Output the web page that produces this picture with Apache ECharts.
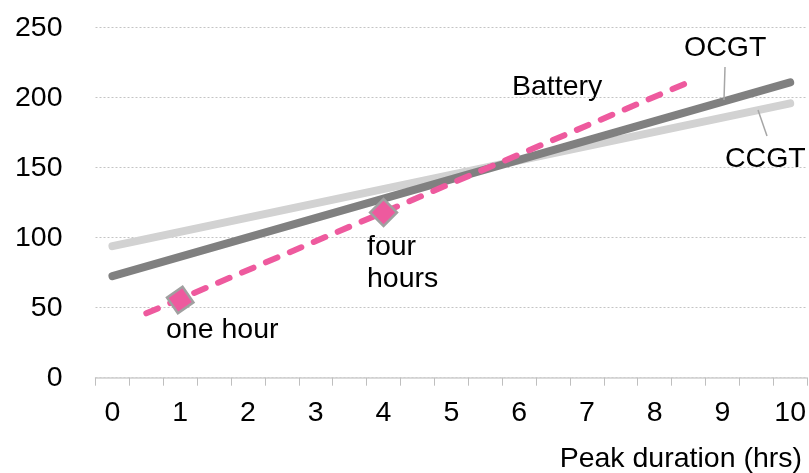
<!DOCTYPE html>
<html>
<head>
<meta charset="utf-8">
<script src="https://cdn.jsdelivr.net/npm/echarts@6/dist/echarts.min.js"></script>
<style>
html,body{margin:0;padding:0;background:#fff;}
#chart{width:809px;height:473px;}
</style>
</head>
<body>
<div id="chart"></div>
<script>
// Categories: peak duration in hours (half-hour steps, labels every hour)
var categories = ['0','0.5','1','1.5','2','2.5','3','3.5','4','4.5','5','5.5','6','6.5','7','7.5','8','8.5','9','9.5','10'];
var yTicks = [0, 50, 100, 150, 200, 250];
// Line endpoints
var ocgt = [['0', 72.5], ['10', 211]];
var ccgt = [['0', 94], ['10', 196]];
var battery = [['0.5', 46], ['8.5', 211]];
var markerOneHour = [['1', 55.5]];
var markerFourHours = [['4', 118]];

var FONT = 'Liberation Sans, Arial, sans-serif';
var PINK = '#EE5A9E';

var chart = echarts.init(document.getElementById('chart'), null, {renderer: 'canvas'});
var option = {
  animation: false,
  backgroundColor: '#fff',
  grid: {left: 95.5, right: 0, top: 27.7, bottom: 95.3, containLabel: false},
  xAxis: {
    type: 'category',
    data: categories,
    boundaryGap: true,
    axisLine: {show: true, lineStyle: {color: '#d0d0d0', width: 1.5}},
    axisTick: {show: true, interval: 0, length: 8, lineStyle: {color: '#bfbfbf', width: 1}},
    axisLabel: {interval: 1, color: '#000', fontFamily: FONT, fontSize: 28.5, margin: 21},
    splitLine: {show: false}
  },
  yAxis: {
    type: 'value',
    min: yTicks[0],
    max: yTicks[yTicks.length - 1],
    interval: 50,
    axisLine: {show: false},
    axisTick: {show: false},
    axisLabel: {color: '#000', fontFamily: FONT, fontSize: 28.5, margin: 33},
    splitLine: {show: true, lineStyle: {color: '#c4c4c4', width: 1, type: [2, 2]}}
  },
  series: [
    {
      name: 'CCGT', type: 'line', data: ccgt, symbol: 'none', z: 2,
      lineStyle: {color: '#d2d2d2', width: 8, cap: 'round'}
    },
    {
      name: 'OCGT', type: 'line', data: ocgt, symbol: 'none', z: 3,
      lineStyle: {color: '#808080', width: 8, cap: 'round'}
    },
    {
      name: 'Battery', type: 'line', data: battery, symbol: 'none', z: 4,
      lineStyle: {color: PINK, width: 6, type: [12.5, 13.5], cap: 'round'}
    },
    {
      name: 'one hour', type: 'scatter', data: markerOneHour, z: 5,
      symbol: 'rect', symbolSize: 19, symbolRotate: 35,
      itemStyle: {color: PINK, borderColor: '#a0a0a0', borderWidth: 2.5, opacity: 1}
    },
    {
      name: 'four hours', type: 'scatter', data: markerFourHours, z: 5,
      symbol: 'rect', symbolSize: 19, symbolRotate: 45,
      itemStyle: {color: PINK, borderColor: '#a0a0a0', borderWidth: 2.5, opacity: 1}
    }
  ],
  graphic: [
    {type: 'text', left: 512, top: 73, style: {text: 'Battery', font: '28.5px ' + FONT, fill: '#000'}},
    {type: 'text', left: 684, top: 34, style: {text: 'OCGT', font: '28.5px ' + FONT, fill: '#000'}},
    {type: 'text', left: 725, top: 145, style: {text: 'CCGT', font: '28.5px ' + FONT, fill: '#000'}},
    {type: 'text', left: 367, top: 231, style: {text: 'four\nhours', font: '28.5px ' + FONT, lineHeight: 32, fill: '#000'}},
    {type: 'text', left: 166, top: 316, style: {text: 'one hour', font: '28.5px ' + FONT, fill: '#000'}},
    {type: 'text', right: 7, top: 445, style: {text: 'Peak duration (hrs)', font: '28.5px ' + FONT, fill: '#000'}},
    {type: 'line', shape: {x1: 725, y1: 67, x2: 724, y2: 100}, style: {stroke: '#a6a6a6', lineWidth: 1.5}, z: 10},
    {type: 'line', shape: {x1: 758, y1: 110, x2: 767, y2: 136}, style: {stroke: '#a6a6a6', lineWidth: 1.5}, z: 10}
  ]
};
chart.setOption(option);
</script>
</body>
</html>
